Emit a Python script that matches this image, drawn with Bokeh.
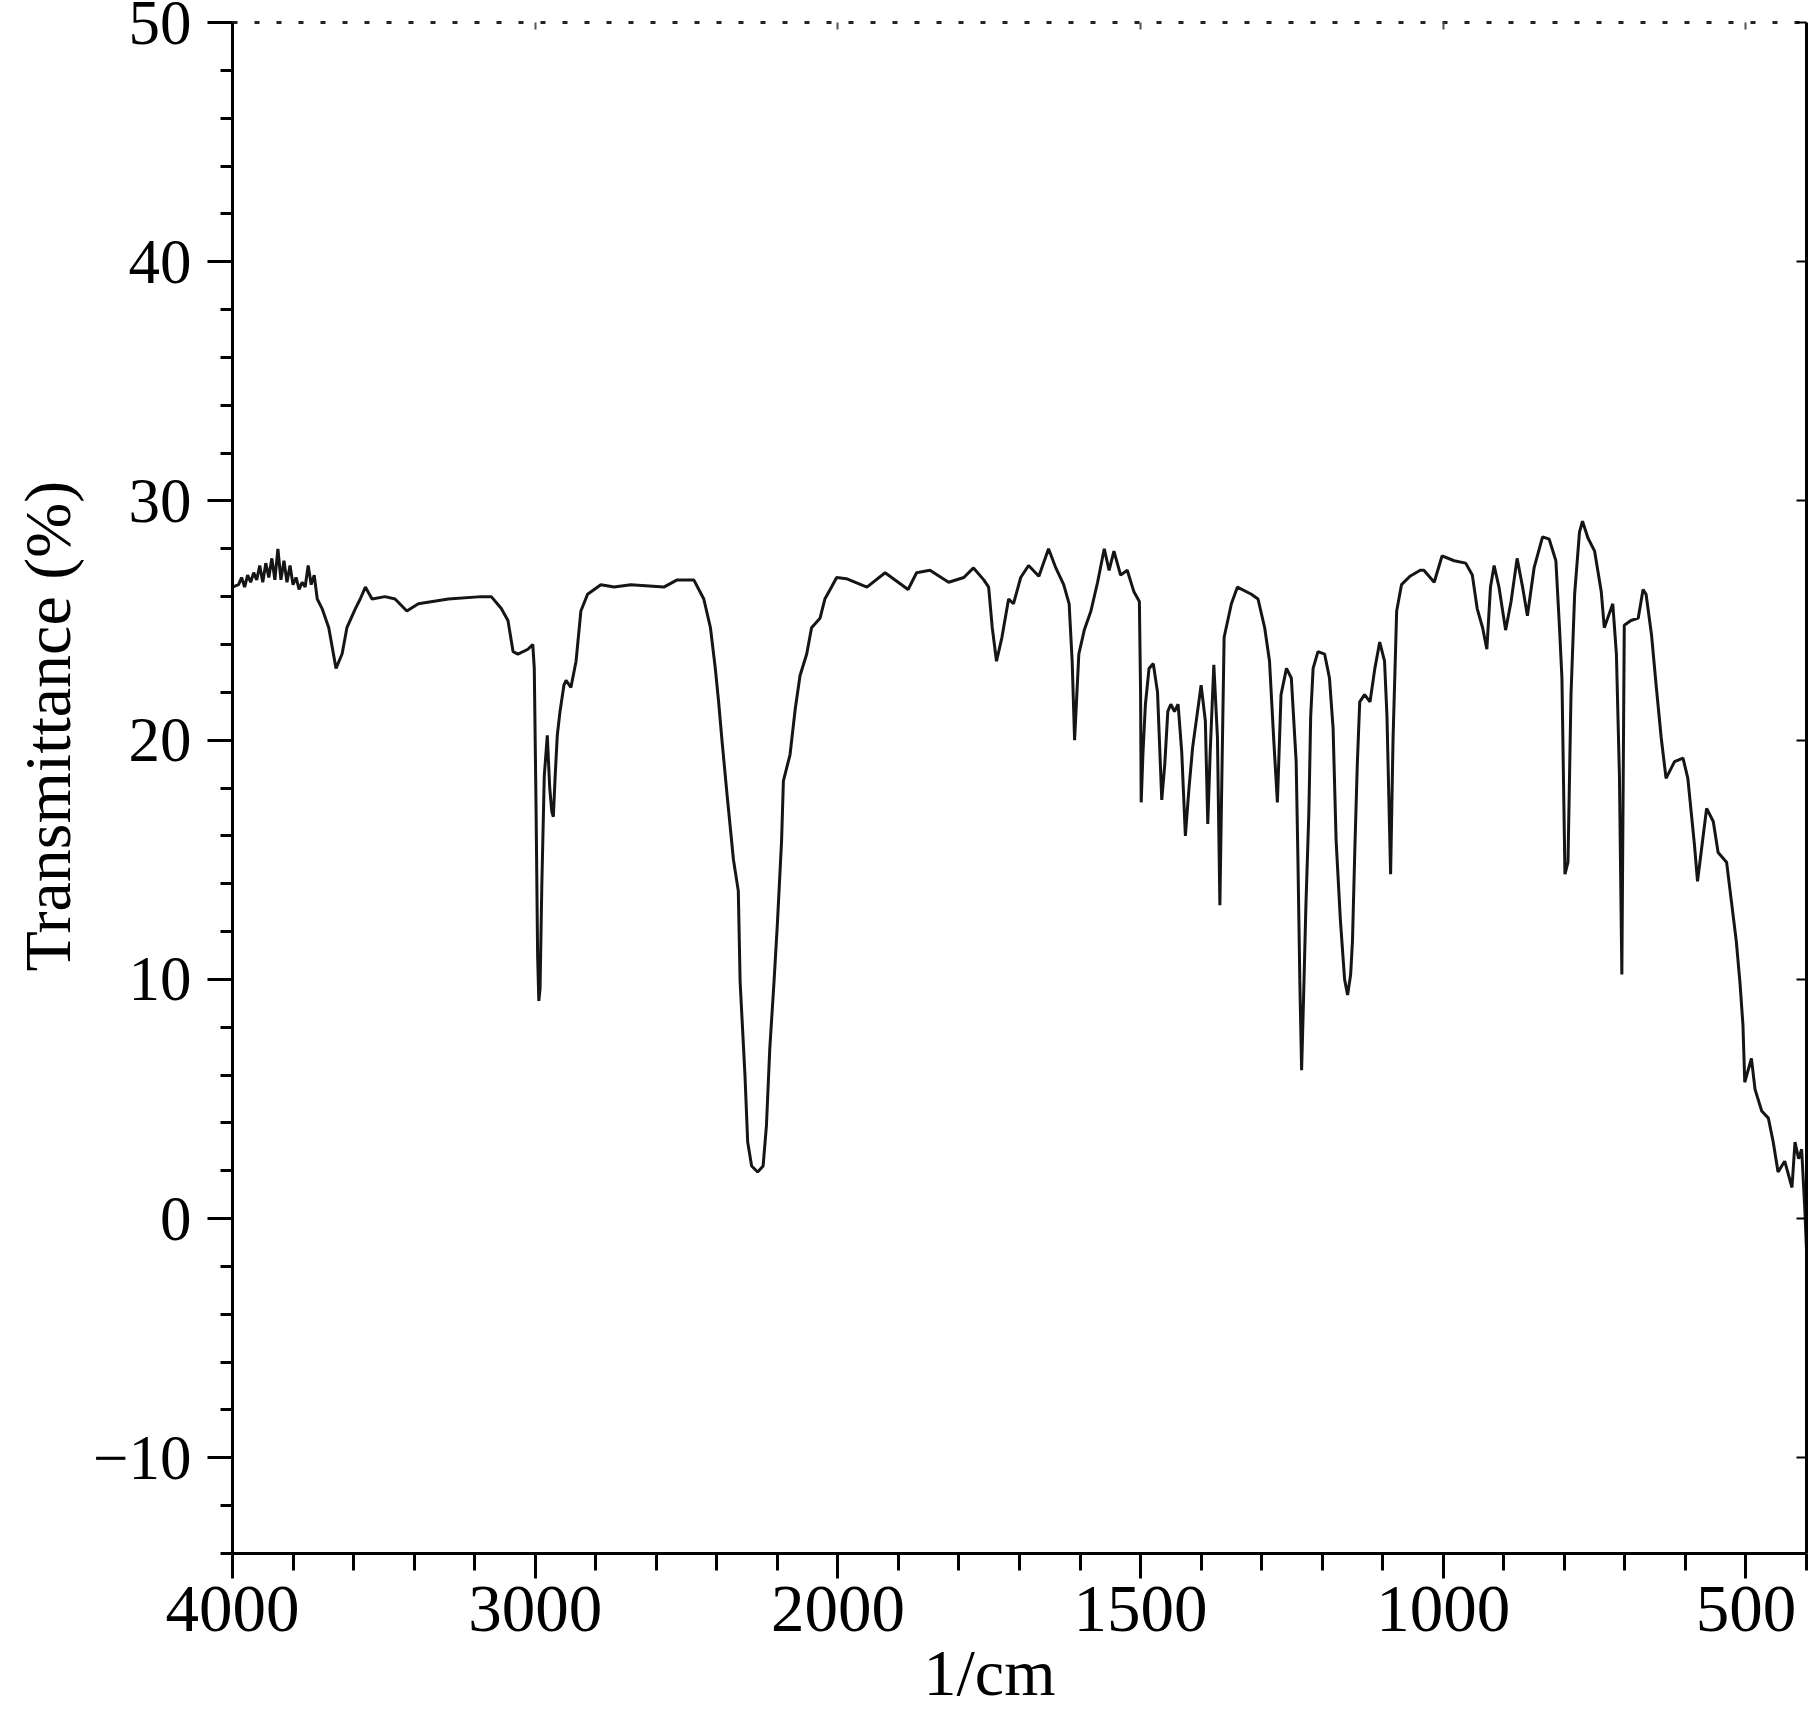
import numpy as np
from bokeh.plotting import figure
from bokeh.models import FixedTicker, LinearAxis, Range1d, ColumnDataSource, Title
from bokeh.embed import file_html
from bokeh.resources import INLINE

# ---- data (wavenumber in 1/cm, transmittance in %) ----
wavenumber = [
    4000, 3980, 3970, 3960, 3950, 3940, 3930, 3920, 3910, 3900, 3890, 3880, 3870, 3860,
    3850, 3840, 3830, 3820, 3810, 3800, 3790, 3780, 3770, 3760, 3750, 3740, 3730, 3720,
    3704, 3682,
    3658, 3638, 3622, 3594, 3578, 3561, 3539, 3496, 3463, 3424, 3386, 3287, 3178, 3145,
    3112, 3090, 3073, 3057, 3024, 3008, 3003, 2997, 2992, 2988, 2984, 2978, 2970, 2960,
    2952, 2945, 2940, 2934, 2927, 2918, 2905, 2898, 2882, 2865, 2849, 2827, 2783, 2739,
    2684, 2575, 2531, 2476, 2443, 2421, 2405, 2394, 2383, 2366, 2345, 2329, 2323, 2307,
    2298, 2285, 2265, 2247, 2236, 2225, 2211, 2200, 2186, 2180, 2158, 2141, 2125, 2103,
    2087, 2059, 2043, 2021, 2004, 1986, 1952, 1922, 1884, 1870, 1848, 1817, 1792, 1776,
    1759, 1751, 1745, 1738, 1729, 1718, 1710, 1698, 1685, 1668, 1652, 1640, 1627, 1618,
    1613, 1609, 1602, 1593, 1582, 1571, 1560, 1552, 1544, 1533, 1522, 1511, 1502, 1500,
    1499, 1496, 1492, 1486, 1479, 1472, 1465, 1460, 1455, 1450, 1444, 1438, 1432, 1426,
    1420, 1414, 1400, 1393, 1389, 1385, 1379, 1373, 1369, 1366, 1362, 1350, 1340, 1317,
    1306, 1295, 1287, 1280, 1274, 1268, 1259, 1251, 1243, 1240, 1237, 1234, 1231, 1227,
    1222, 1219, 1215, 1207, 1196, 1188, 1182, 1177, 1170, 1163, 1158, 1153, 1150, 1146,
    1142, 1138, 1130, 1121, 1113, 1105, 1097, 1093, 1087, 1083, 1077, 1069, 1055, 1038,
    1032, 1015, 1002, 982, 963, 952, 944, 935, 928, 922, 916, 908, 897, 888, 878, 869,
    861, 850, 836, 825, 814, 808, 804, 799, 794, 789, 783, 775, 770, 761, 750, 739, 734,
    720, 714, 709, 705, 701, 690, 678, 670, 665, 656, 648, 640, 632, 618, 604, 596, 585,
    580, 565, 554, 546, 532, 524, 516, 510, 505, 502, 491, 485, 474, 463, 455, 447, 436,
    424, 419, 413, 408, 403, 400]
transmittance = [
    26.4, 26.5, 26.8, 26.4, 26.9, 26.6, 27.0, 26.7, 27.3, 26.6, 27.4, 26.8, 27.6, 26.7,
    28.0, 26.7, 27.5, 26.6, 27.3, 26.5, 26.8, 26.3, 26.6, 26.4, 27.3, 26.5, 26.9, 25.9,
    25.5, 24.7,
    23.0, 23.6, 24.7, 25.5, 25.9, 26.4, 25.9, 26.0, 25.9, 25.4, 25.7, 25.9, 26.0, 26.0,
    25.5, 25.0, 23.7, 23.6, 23.8, 24.0, 23.0, 17.0, 11.0, 9.1, 9.6, 14.0, 18.5, 20.2,
    18.0, 17.0, 16.8, 18.5, 20.2, 21.2, 22.3, 22.5, 22.2, 23.3, 25.4, 26.1, 26.5, 26.4,
    26.5, 26.4, 26.7, 26.7, 25.9, 24.7, 23.0, 21.6, 20.0, 17.7, 15.0, 13.7, 9.9, 6.0,
    3.2, 2.2, 1.95, 2.2, 3.9, 7.1, 9.9, 12.3, 15.8, 18.3, 19.4, 21.3, 22.7, 23.6,
    24.7, 25.1, 25.9, 26.4, 26.8, 26.75, 26.4, 27.0, 26.3, 27.0, 27.1, 26.6, 26.8, 27.2,
    26.7, 26.4, 24.7, 23.3, 24.3, 25.9, 25.7, 26.8, 27.3, 26.85, 28.0, 27.2, 26.5, 25.7,
    23.3, 20.0, 23.6, 24.6, 25.4, 26.6, 28.0, 27.1, 27.9, 26.9, 27.1, 26.2, 25.8, 22.0,
    17.4, 19.5, 21.5, 23.0, 23.2, 22.0, 17.5, 19.0, 21.2, 21.5, 21.2, 21.5, 19.5, 16.0,
    18.0, 19.7, 22.3, 20.8, 16.5, 19.5, 23.15, 20.1, 13.1, 18.0, 24.3, 25.7, 26.4, 26.1,
    25.9, 24.7, 23.3, 20.0, 17.4, 21.9, 23.0, 22.6, 19.1, 14.9, 10.0, 6.2, 9.0, 13.0,
    17.0, 21.0, 23.0, 23.7, 23.6, 22.6, 20.5, 15.8, 12.5, 10.0, 9.35, 10.2, 11.6, 15.5,
    19.0, 21.6, 21.9, 21.6, 23.0, 24.1, 23.3, 21.0, 14.4, 20.0, 25.4, 26.5, 26.85, 27.1,
    27.1, 26.6, 27.7, 27.5, 27.4, 26.9, 25.5, 24.7, 23.8, 26.4, 27.3, 26.4, 24.6, 25.8, 27.6, 26.4,
    25.2, 27.2, 28.5, 28.4, 27.5, 24.7, 22.6, 14.4, 14.9, 21.9, 26.1, 28.7, 29.15, 28.45, 27.9, 26.2, 24.7,
    25.7, 23.6, 18.5, 10.2, 24.8, 25.0, 25.1, 26.3, 26.1, 24.4, 22.2, 20.1, 18.4, 19.1, 19.25, 18.4, 15.6,
    14.1, 17.15, 16.6, 15.3, 14.9, 13.25, 11.6, 9.9, 8.1, 5.7, 6.7, 5.4, 4.5, 4.2, 3.2, 1.95, 2.4,
    1.3, 3.2, 2.5, 2.9, 0.5, -1.3]

x_tick_wavenumbers = [4000, 3000, 2000, 1500, 1000, 500]
x_tick_labels = ["4000", "3000", "2000", "1500", "1000", "500"]
y_ticks = [-10, 0, 10, 20, 30, 40, 50]
y_tick_labels = ["\u221210", "0", "10", "20", "30", "40", "50"]


def to_axis(w):
    # FTIR style axis: 4000-2000 compressed by a factor of 2 relative to 2000-400
    w = np.asarray(w, dtype=float)
    return np.where(w >= 2000, (4000.0 - w) / 2.0, 3000.0 - w)


FONT = "Liberation Serif"

p = figure(width=1811, height=1731, output_backend="svg", toolbar_location=None,
           x_range=Range1d(0, 2600), y_range=Range1d(-14, 50),
           min_border_left=232, min_border_right=5, min_border_top=22, min_border_bottom=178)
p.grid.visible = False
p.outline_line_color = None
p.background_fill_color = "white"
p.border_fill_color = "white"

src = ColumnDataSource(data=dict(x=to_axis(wavenumber), y=transmittance))
p.line("x", "y", source=src, line_color="#151515", line_width=3)

xt = [int(v) for v in to_axis(x_tick_wavenumbers)]
xax = p.xaxis[0]
xax.ticker = FixedTicker(ticks=xt, minor_ticks=list(range(0, 2601, 100)))
xax.major_label_overrides = {t: l for t, l in zip(xt, x_tick_labels)}
yax = p.yaxis[0]
yax.ticker = FixedTicker(ticks=y_ticks, minor_ticks=list(range(-14, 51, 2)))
yax.major_label_overrides = {t: l for t, l in zip(y_ticks, y_tick_labels)}

for ax in (xax, yax):
    ax.axis_line_width = 3
    ax.axis_line_color = "black"
    ax.major_tick_line_width = 3
    ax.minor_tick_line_width = 3
    ax.major_tick_line_color = "black"
    ax.minor_tick_line_color = "black"
    ax.major_tick_in = 0
    ax.minor_tick_in = 0
    ax.major_tick_out = 25
    ax.major_label_text_font = FONT
    ax.major_label_text_color = "black"
xax.major_label_text_font_size = "67px"
yax.major_label_text_font_size = "63px"
xax.minor_tick_out = 17
xax.major_label_standoff = 8
yax.minor_tick_out = 12
yax.major_label_standoff = 16

right_ax = LinearAxis(ticker=FixedTicker(ticks=y_ticks, minor_ticks=[]),
                      major_tick_in=10, major_tick_out=0, minor_tick_in=0, minor_tick_out=0,
                      major_label_text_font_size="1px", major_label_text_color=None,
                      major_label_text_alpha=0, major_label_standoff=0,
                      axis_line_width=3, major_tick_line_width=2)
p.add_layout(right_ax, "right")

top_ax = LinearAxis(ticker=FixedTicker(ticks=xt, minor_ticks=[]),
                    major_tick_in=7, major_tick_out=0, minor_tick_in=0, minor_tick_out=0,
                    major_label_text_font_size="1px", major_label_text_color=None,
                    major_label_text_alpha=0, major_label_standoff=0,
                    axis_line_width=3, axis_line_color="#222222", axis_line_dash="5 17",
                    major_tick_line_width=2, major_tick_line_color="#555555")
p.add_layout(top_ax, "above")

ytitle = Title(text="Transmittance (%)", align="left", offset=582, standoff=12,
               text_font=FONT, text_font_size="66px", text_font_style="normal",
               text_color="black")
p.add_layout(ytitle, "left")
xtitle = Title(text="1/cm", align="left", offset=691, standoff=0,
               text_font=FONT, text_font_size="66px", text_font_style="normal",
               text_color="black")
p.add_layout(xtitle, "below")

open("out.html", "w").write(file_html(p, INLINE))
